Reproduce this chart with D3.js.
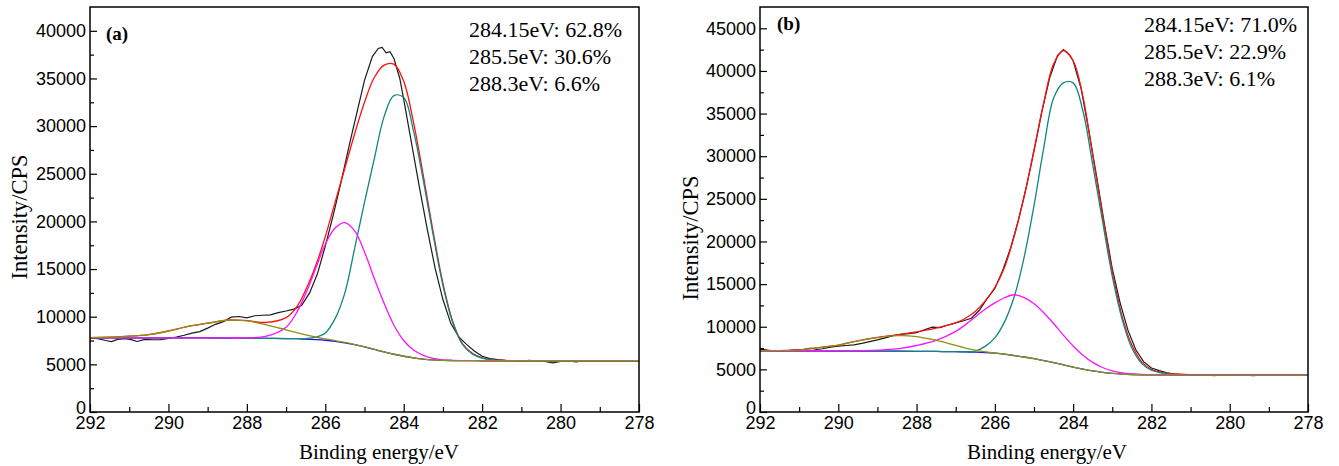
<!DOCTYPE html>
<html>
<head>
<meta charset="utf-8">
<script src="https://d3js.org/d3.v7.min.js"></script>
<style>
  body { margin: 0; background: #fff; }
  .tick text { font-family: "Liberation Sans", Arial, sans-serif; font-size: 18px; fill: #000; }
  .tick line { stroke: #000; stroke-width: 1.2px; }
  .lab { font-family: "Liberation Serif", "Times New Roman", serif; font-size: 21px; fill: #000; }
</style>
</head>
<body>
<svg id="chart" width="1339" height="466"></svg>
<script>
// energy grid used by the fitted curves (eV)
var fitEnergy = [292, 291.5, 291, 290.5, 290, 289.5, 289, 288.5, 288, 287.5, 287, 286.75, 286.5, 286.25, 286,
  285.75, 285.5, 285.25, 285, 284.75, 284.5, 284.25, 284, 283.75, 283.5, 283.25, 283, 282.75, 282.5, 282.25,
  282, 281.75, 281.5, 281, 280, 279, 278];

// panel (a) fitted curves, CPS
var bgA      = [7780, 7780, 7780, 7780, 7780, 7775, 7770, 7760, 7745, 7730, 7710, 7690, 7650, 7600, 7530, 7420, 7250, 7060, 6840, 6570, 6300, 6060, 5850, 5680, 5550, 5470, 5420, 5400, 5390, 5385, 5380, 5380, 5380, 5380, 5380, 5380, 5380];
var peak3A   = [7810, 7860, 7950, 8130, 8500, 8990, 9320, 9630, 9560, 9150, 8620, 8350, 8090, 7870, 7680, 7500, 7300, 7080, 6850, 6575, 6300, 6060, 5850, 5680, 5550, 5470, 5420, 5400, 5390, 5385, 5380, 5380, 5380, 5380, 5380, 5380, 5380];
var peak2A   = [7780, 7780, 7780, 7780, 7780, 7780, 7775, 7770, 7780, 7950, 8900, 10300, 12400, 15000, 17600, 19300, 19880, 19000, 16800, 14000, 11400, 9100, 7500, 6500, 5950, 5620, 5460, 5410, 5395, 5385, 5380, 5380, 5380, 5380, 5380, 5380, 5380];
var peak1A   = [7780, 7780, 7780, 7780, 7780, 7775, 7770, 7760, 7745, 7730, 7710, 7695, 7700, 7850, 8300, 9800, 12500, 17200, 22000, 26600, 31000, 33200, 33000, 29500, 24300, 18600, 13300, 9400, 7100, 6100, 5650, 5450, 5400, 5380, 5380, 5380, 5380];
var envA     = [7810, 7860, 7950, 8130, 8500, 8990, 9320, 9640, 9590, 9400, 9900, 10900, 12800, 15300, 18400, 22000, 25600, 29200, 32500, 35100, 36400, 36500, 34700, 30400, 24800, 18900, 13500, 9500, 7150, 6150, 5680, 5470, 5410, 5380, 5380, 5380, 5380];

// panel (a) measured spectrum
var rawEnergyA = [292.0, 291.8, 291.6, 291.45, 291.3, 291.1, 290.95, 290.8, 290.6, 290.4, 290.2, 290.0, 289.8, 289.6, 289.4,
  289.2, 289.0, 288.8, 288.6, 288.4, 288.2, 288.0, 287.8, 287.6, 287.4, 287.2, 287.0, 286.8, 286.6, 286.4, 286.2, 286.0,
  285.8, 285.6, 285.4, 285.2, 285.0, 284.8, 284.65, 284.55, 284.45, 284.35, 284.25, 284.1, 284.0, 283.8, 283.6, 283.4,
  283.2, 283.0, 282.8, 282.6, 282.4, 282.2, 282.0, 281.8, 281.6, 281.4, 281.2, 281.0, 280.8, 280.6, 280.4, 280.2, 280.0,
  279.8, 279.6, 279.4, 279.2, 279.0, 278.8, 278.6, 278.4, 278.2, 278.0];
var rawA = [7750, 7700, 7500, 7380, 7620, 7700, 7600, 7400, 7620, 7580, 7600, 7720, 7850, 8050, 8280,
  8430, 8800, 9200, 9480, 9950, 10020, 9880, 10100, 10150, 10200, 10420, 10600, 10800, 11200, 12500, 14500, 17400,
  20600, 24100, 27800, 31300, 34800, 37300, 38150, 38250, 37700, 37800, 37100, 35000, 32800, 28200, 23600, 19200,
  15100, 11800, 9300, 7900, 7100, 6400, 5850, 5600, 5500, 5420, 5380, 5300, 5420, 5350, 5300, 5150, 5300,
  5350, 5250, 5380, 5300, 5320, 5380, 5330, 5300, 5360, 5380];

// panel (b) fitted curves, CPS
var bgB      = [7150, 7150, 7150, 7150, 7150, 7145, 7140, 7130, 7120, 7100, 7070, 7045, 7020, 6980, 6900, 6780, 6620, 6450, 6250, 6030, 5800, 5520, 5250, 5020, 4820, 4650, 4530, 4450, 4400, 4370, 4350, 4345, 4340, 4335, 4330, 4330, 4330];
var peak3B   = [7180, 7200, 7260, 7550, 7850, 8350, 8720, 8950, 8850, 8400, 7820, 7500, 7250, 7050, 6920, 6780, 6620, 6450, 6250, 6030, 5800, 5520, 5250, 5020, 4820, 4650, 4530, 4450, 4400, 4370, 4350, 4345, 4340, 4335, 4330, 4330, 4330];
var peak2B   = [7150, 7150, 7150, 7155, 7160, 7180, 7250, 7400, 7800, 8400, 9450, 10250, 11150, 12050, 12800, 13400, 13750, 13410, 12700, 11650, 10380, 9020, 7740, 6660, 5820, 5220, 4830, 4590, 4460, 4400, 4360, 4345, 4340, 4335, 4330, 4330, 4330];
var peak1B   = [7150, 7150, 7150, 7150, 7150, 7145, 7140, 7130, 7120, 7100, 7070, 7060, 7150, 7700, 8700, 10600, 13600, 18200, 24200, 31000, 36800, 38600, 38600, 35300, 29000, 22400, 15900, 10900, 7500, 5700, 4900, 4580, 4440, 4350, 4330, 4330, 4330];
var envB     = [7200, 7210, 7270, 7550, 7850, 8350, 8750, 9050, 9400, 9850, 10450, 11000, 11800, 13000, 14600, 17000, 20700, 25300, 30700, 36300, 40800, 42400, 41200, 37000, 30100, 23100, 16500, 11250, 7850, 5880, 5000, 4650, 4500, 4380, 4340, 4330, 4330];

// panel (b) measured spectrum
var rawEnergyB = [292.0, 291.8, 291.6, 291.45, 291.3, 291.1, 290.9, 290.7, 290.55, 290.4, 290.2, 290.0, 289.8, 289.6, 289.4,
  289.2, 289.0, 288.8, 288.6, 288.4, 288.2, 288.0, 287.8, 287.6, 287.4, 287.2, 287.0, 286.8, 286.6, 286.4, 286.2, 286.0,
  285.8, 285.6, 285.4, 285.2, 285.0, 284.8, 284.6, 284.4, 284.25, 284.1, 284.0, 283.8, 283.6, 283.4, 283.2, 283.0,
  282.8, 282.6, 282.4, 282.2, 282.0, 281.8, 281.6, 281.4, 281.2, 281.0, 280.8, 280.6, 280.4, 280.2, 280.0, 279.8,
  279.6, 279.4, 279.2, 279.0, 278.8, 278.6, 278.4, 278.2, 278.0];
var rawB = [7380, 7250, 7150, 7120, 7200, 7300, 7320, 7500, 7330, 7420, 7600, 7720, 7800, 7880, 8050,
  8250, 8450, 8700, 8950, 9100, 9200, 9300, 9650, 9950, 9900, 10200, 10450, 10700, 11000, 11900, 13300, 14500,
  16600, 19200, 22500, 26300, 30600, 35200, 39200, 41800, 42500, 41900, 41200, 38000, 33000, 27600, 22000, 16800,
  12800, 9600, 7300, 5900, 5150, 4850, 4600, 4450, 4400, 4330, 4280, 4400, 4250, 4350, 4300, 4380,
  4320, 4260, 4330, 4300, 4330, 4280, 4350, 4320, 4350];

// axis ticks
var xMajor = [292, 290, 288, 286, 284, 282, 280, 278];
var xMinor = [291, 289, 287, 285, 283, 281, 279];
var notesA = ["284.15eV: 62.8%", "285.5eV: 30.6%", "288.3eV: 6.6%"];
var notesB = ["284.15eV: 71.0%", "285.5eV: 22.9%", "288.3eV: 6.1%"];

var svg = d3.select("#chart");

function zip(xs, ys) {
  return xs.map(function (d, i) { return [d, ys[i]]; });
}

function drawPanel(p) {
  var x = d3.scaleLinear().domain([292, 278]).range([p.left, p.right]);
  var y = d3.scaleLinear().domain([0, p.ymax]).range([p.bottom, p.top]);
  var g = svg.append("g");

  g.append("clipPath").attr("id", "clip" + p.id)
    .append("rect")
    .attr("x", p.left).attr("y", p.top)
    .attr("width", p.right - p.left).attr("height", p.bottom - p.top);

  var smooth = d3.line()
    .x(function (d) { return x(d[0]); })
    .y(function (d) { return y(d[1]); })
    .curve(d3.curveCatmullRom);
  var jagged = d3.line()
    .x(function (d) { return x(d[0]); })
    .y(function (d) { return y(d[1]); });

  var plot = g.append("g").attr("clip-path", "url(#clip" + p.id + ")");

  plot.append("path").attr("d", jagged(zip(p.rawE, p.raw)))
    .attr("fill", "none").attr("stroke", "#1a1a1a").attr("stroke-width", 1.2);

  var series = [
    { v: p.env, c: "#ff1010" },
    { v: p.bg, c: "#1010ff" },
    { v: p.p1, c: "#12877c" },
    { v: p.p2, c: "#ff10ff" },
    { v: p.p3, c: "#8f8f12" }
  ];
  series.forEach(function (s) {
    plot.append("path").attr("d", smooth(zip(fitEnergy, s.v)))
      .attr("fill", "none").attr("stroke", s.c).attr("stroke-width", 1.3);
  });

  // y axis, ticks pointing inward
  var yMajor = d3.range(0, p.ymax, 5000);
  var yMinor = d3.range(2500, p.ymax, 5000);
  var ya = g.append("g").attr("transform", "translate(" + p.left + ",0)")
    .call(d3.axisLeft(y).tickValues(yMajor).tickFormat(d3.format("d"))
      .tickSizeInner(-7).tickSizeOuter(0).tickPadding(4));
  ya.select(".domain").remove();
  // the zero label sits a little higher so it only touches the x labels
  ya.selectAll(".tick text").filter(function (d) { return d === 0; }).attr("y", -4);
  var ym = g.append("g").attr("transform", "translate(" + p.left + ",0)")
    .call(d3.axisLeft(y).tickValues(yMinor).tickFormat("").tickSizeInner(-4).tickSizeOuter(0));
  ym.select(".domain").remove();

  var xa = g.append("g").attr("transform", "translate(0," + p.bottom + ")")
    .call(d3.axisBottom(x).tickValues(xMajor).tickFormat(d3.format("d"))
      .tickSizeInner(-8).tickSizeOuter(0).tickPadding(4));
  xa.select(".domain").remove();
  var xm = g.append("g").attr("transform", "translate(0," + p.bottom + ")")
    .call(d3.axisBottom(x).tickValues(xMinor).tickFormat("").tickSizeInner(-5).tickSizeOuter(0));
  xm.select(".domain").remove();

  g.append("rect")
    .attr("x", p.left).attr("y", p.top)
    .attr("width", p.right - p.left).attr("height", p.bottom - p.top)
    .attr("fill", "none").attr("stroke", "#000").attr("stroke-width", 1.5);

  g.append("text").attr("class", "lab")
    .attr("x", p.xTitleX).attr("y", 459)
    .attr("text-anchor", "middle")
    .text("Binding energy/eV");

  g.append("text").attr("class", "lab")
    .attr("transform", "translate(" + p.yTitleX + "," + p.yTitleY + ") rotate(-90)")
    .attr("text-anchor", "middle")
    .style("font-size", "22.5px")
    .text("Intensity/CPS");

  g.append("text").attr("class", "lab")
    .attr("x", p.tagX).attr("y", p.tagY)
    .style("font-weight", "bold").style("font-size", "19px")
    .text(p.tag);

  p.notes.forEach(function (t, i) {
    g.append("text").attr("class", "lab")
      .attr("x", p.noteX).attr("y", p.noteY + i * 27)
      .style("font-size", "22px")
      .text(t);
  });
}

drawPanel({
  id: "a", left: 90, right: 639, top: 7, bottom: 412, ymax: 42500,
  bg: bgA, p1: peak1A, p2: peak2A, p3: peak3A, env: envA, rawE: rawEnergyA, raw: rawA,
  xTitleX: 379, yTitleX: 27, yTitleY: 217,
  tag: "(a)", tagX: 106, tagY: 40,
  notes: notesA, noteX: 469, noteY: 37
});

drawPanel({
  id: "b", left: 760, right: 1308, top: 7, bottom: 412, ymax: 47500,
  bg: bgB, p1: peak1B, p2: peak2B, p3: peak3B, env: envB, rawE: rawEnergyB, raw: rawB,
  xTitleX: 1047, yTitleX: 698, yTitleY: 238,
  tag: "(b)", tagX: 777, tagY: 30,
  notes: notesB, noteX: 1144, noteY: 32
});
</script>
</body>
</html>
